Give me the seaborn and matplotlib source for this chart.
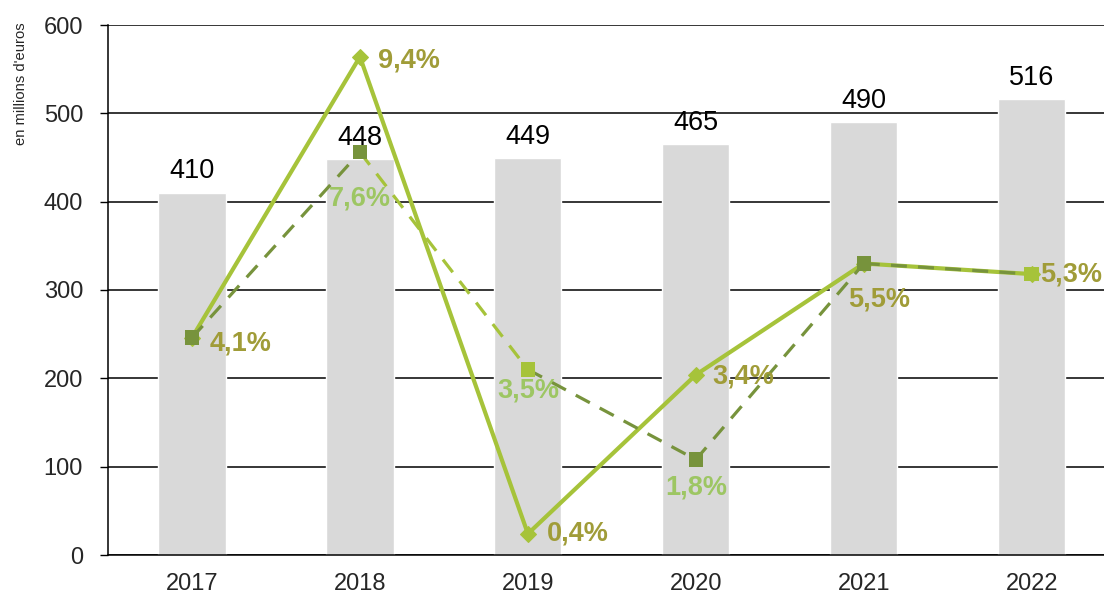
import numpy as np
import pandas as pd
import matplotlib
matplotlib.use("Agg")
import matplotlib.pyplot as plt
import seaborn as sns

years = ["2017", "2018", "2019", "2020", "2021", "2022"]
montants = [410, 448, 449, 465, 490, 516]
taux_solide = [4.1, 9.4, 0.4, 3.4, 5.5, 5.3]
taux_tirets = [4.1, 7.6, 3.5, 1.8, 5.5, 5.3]
yticks = [0, 100, 200, 300, 400, 500, 600]
# colour group of each dashed segment (i -> i+1) and each dashed marker
seg_groupe = ["fonce", "clair", "fonce", "fonce", "fonce"]
pt_groupe = ["fonce", "fonce", "clair", "fonce", "fonce", "clair"]

sns.set_theme(style="white")
plt.rcParams['font.family'] = ['Liberation Sans', 'DejaVu Sans']

BAR = "#d9d9d9"
LIGHT = "#a6c33a"
DARK = "#77933c"
LBL_OLIVE = "#a09c38"
LBL_LIGHT = "#9dc663"
pal = {"fonce": DARK, "clair": LIGHT}

fig = plt.figure(figsize=(11.04, 5.96), dpi=100)
ax = fig.add_axes([108/1104, 1-555/596, 1-108/1104, 530/596])

df = pd.DataFrame({"annee": years, "montant": montants})
sns.barplot(data=df, x="annee", y="montant", color=BAR, width=0.4,
            saturation=1, ax=ax, zorder=2)
ax.set_ylim(0, 600)
ax.set_xlim(-0.5, 5.43)
ax.set_yticks(yticks)
ax.yaxis.grid(True, color="black", linewidth=1.1, zorder=0)
ax.set_axisbelow(True)
for s in ["top", "right"]:
    ax.spines[s].set_visible(False)
for s in ["left", "bottom"]:
    ax.spines[s].set_color("black")
    ax.spines[s].set_linewidth(1.1)
ax.tick_params(axis="y", which="both", left=True, length=6, width=1, color="black",
               labelsize=17, pad=12)
ax.tick_params(axis="x", bottom=False, labelsize=17, pad=7)
ax.set_xlabel("")
ax.set_ylabel("")
fig.text(21/1104, 1-84/596, "en millions d'euros", rotation=90, ha="center",
         va="center", fontsize=10.6)

for i, v in enumerate(montants):
    ax.annotate(str(v), (i, v), xytext=(0, 6), textcoords="offset points",
                ha="center", va="bottom", fontsize=19.5, color="black")

ax2 = ax.twinx()
ax2.set_ylim(0, 10)
ax2.set_axis_off()
x = np.arange(len(years))

d1 = pd.DataFrame({"x": x, "t": taux_solide})
sns.lineplot(data=d1, x="x", y="t", ax=ax2, color=LIGHT, linewidth=3,
             marker="D", markersize=8, markeredgecolor=LIGHT, zorder=3)

rows = []
for k, g in enumerate(seg_groupe):
    for j in (k, k + 1):
        rows.append({"seg": k, "groupe": g, "x": x[j], "t": taux_tirets[j]})
segs = pd.DataFrame(rows)
sns.lineplot(data=segs, x="x", y="t", units="seg", hue="groupe", palette=pal,
             estimator=None, sort=False, ax=ax2, linewidth=2.3,
             dashes=False, linestyle=(0, (5, 3.5)), legend=False, zorder=4)
pts = pd.DataFrame({"x": x, "t": taux_tirets, "groupe": pt_groupe})
sns.scatterplot(data=pts, x="x", y="t", hue="groupe", palette=pal, marker="s",
                s=110, linewidth=0, ax=ax2, legend=False, zorder=5)
ax2.set_xlim(-0.5, 5.43)

def lab(i, val, dx, dy, col, ha="left", va="center"):
    ax2.annotate(f"{val:.1f}%".replace(".", ","), (i, val), xytext=(dx, dy),
                 textcoords="offset points", ha=ha, va=va, fontsize=19.5,
                 fontweight="bold", color=col, zorder=6)

lab(0, taux_solide[0], 13, -4, LBL_OLIVE)
lab(1, taux_solide[1], 13, -3, LBL_OLIVE)
lab(1, taux_tirets[1], 0, -33, LBL_LIGHT, ha="center")
lab(2, taux_tirets[2], 0, -15, LBL_LIGHT, ha="center")
lab(2, taux_solide[2], 14, 0, LBL_OLIVE)
lab(3, taux_solide[3], 12, -1, LBL_OLIVE)
lab(3, taux_tirets[3], 0, -20, LBL_LIGHT, ha="center")
lab(4, taux_solide[4], 11, -26, LBL_OLIVE, ha="center")
lab(5, taux_solide[5], 6, 0, LBL_OLIVE)

fig.savefig("out.png", dpi=100)
